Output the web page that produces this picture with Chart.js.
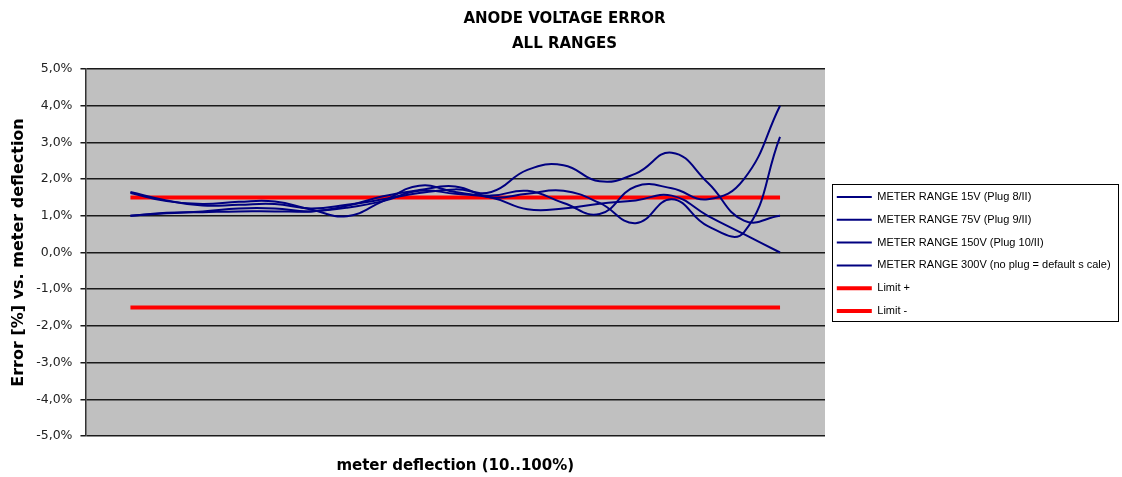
<!DOCTYPE html>
<html lang="en">
<head>
  <meta charset="UTF-8">
  <title>Anode Voltage Error</title>
  <script src="https://cdn.jsdelivr.net/npm/chart.js"></script>
  <style>
    body {
      margin: 0;
      padding: 0;
      background-color: white;
    }
    #chartContainer {
      width: 1122px;
      height: 477px;
    }
  </style>
</head>
<body>

  <div id="chartContainer">
    <canvas id="erroChart" width="1122" height="477"></canvas>
  </div>

  <script>
    // meter deflection in %
    const deflexao = [10, 15, 20, 25, 30, 35, 40, 45, 50, 55, 60, 65, 70, 75, 80, 85, 90, 95, 100];

    // error in % for each meter range
    const range15V  = [1.65, 1.42, 1.28, 1.30, 1.32, 1.20, 1.30, 1.45, 1.62, 1.72, 1.65, 2.25, 2.38, 1.94, 2.15, 2.72, 1.90, 0.87, 1.00];
    const range75V  = [1.62, 1.40, 1.32, 1.38, 1.39, 1.17, 0.99, 1.40, 1.82, 1.65, 1.55, 1.68, 1.35, 1.05, 1.80, 1.75, 1.45, 2.00, 4.00];
    const range150V = [1.00, 1.07, 1.12, 1.20, 1.20, 1.12, 1.27, 1.53, 1.70, 1.80, 1.50, 1.60, 1.68, 1.35, 0.80, 1.45, 0.72, 0.55, 3.15];
    const range300V = [1.00, 1.08, 1.10, 1.12, 1.12, 1.12, 1.22, 1.40, 1.68, 1.60, 1.50, 1.18, 1.20, 1.33, 1.42, 1.55, 1.00, 0.50, 0.00];
    const limitePos = [1.5, 1.5];
    const limiteNeg = [-1.5, -1.5];
    const limiteX = [10, 100];

    const yTicks = [5, 4, 3, 2, 1, 0, -1, -2, -3, -4, -5];

    const rotulos = [
      'METER RANGE 15V (Plug 8/II)',
      'METER RANGE 75V (Plug 9/II)',
      'METER RANGE 150V (Plug 10/II)',
      'METER RANGE 300V (no plug = default s cale)',
      'Limit +',
      'Limit -'
    ];

    const larguraLegenda = 295;

    function pontos(xs, ys) {
      return ys.map((y, i) => ({ x: xs[i], y: y }));
    }

    // gray plot area, legend size/position and legend border
    const fundoPlugin = {
      id: 'fundo',
      beforeLayout(chart) {
        const l = chart.legend;
        if (l && !l._larguraFixa) {
          const fitOriginal = l.fit;
          l.fit = function() {
            fitOriginal.call(this);
            this.width = larguraLegenda;
          };
          l._larguraFixa = true;
        }
      },
      afterLayout(chart) {
        const l = chart.legend;
        const a = chart.chartArea;
        const desvio = (a.top + a.bottom) / 2 + 1.5 - (l.top + l.bottom) / 2;
        l.top += desvio;
        l.bottom += desvio;
      },
      beforeDraw(chart) {
        const a = chart.chartArea;
        const ctx = chart.ctx;
        ctx.save();
        ctx.fillStyle = '#C0C0C0';
        ctx.fillRect(a.left, a.top, a.right - a.left, a.bottom - a.top);
        ctx.restore();
      },
      afterDraw(chart) {
        const l = chart.legend;
        const pad = l.options.labels.padding;
        const fonte = l.options.labels.font.size;
        const colH = l.columnSizes[0].height;
        const n = l.legendItems.length;
        const passo = colH / n;
        const topo = (l.top + pad + l.bottom - colH) / 2;
        const y0 = topo - 7.5;
        const y1 = topo + (n - 1) * passo + fonte + 4.5;
        const ctx = chart.ctx;
        ctx.save();
        ctx.strokeStyle = '#000';
        ctx.lineWidth = 1;
        ctx.strokeRect(Math.round(l.left + 7) + 0.5, Math.round(y0) + 0.5,
                       Math.round(l.width - 9), Math.round(y1 - y0));
        ctx.restore();
      }
    };

    const azul = '#000080';
    const vermelho = '#FF0000';

    function serie(label, data, cor, largura) {
      return {
        label: label,
        data: data,
        borderColor: cor,
        backgroundColor: cor,
        borderWidth: largura,
        pointRadius: 0,
        pointStyle: 'line',
        tension: 0.45,
        fill: false
      };
    }

    let ctx = document.getElementById('erroChart').getContext('2d');
    let chart = new Chart(ctx, {
      type: 'line',
      data: {
        datasets: [
          serie(rotulos[0], pontos(deflexao, range15V), azul, 2),
          serie(rotulos[1], pontos(deflexao, range75V), azul, 2),
          serie(rotulos[2], pontos(deflexao, range150V), azul, 2),
          serie(rotulos[3], pontos(deflexao, range300V), azul, 2),
          serie(rotulos[4], pontos(limiteX, limitePos), vermelho, 4),
          serie(rotulos[5], pontos(limiteX, limiteNeg), vermelho, 4)
        ]
      },
      plugins: [fundoPlugin],
      options: {
        responsive: false,
        animation: false,
        layout: {
          padding: { left: 9, right: 2, top: 2, bottom: 2 }
        },
        scales: {
          x: {
            type: 'linear',
            min: 3.77,
            max: 106.23,
            grid: { display: false },
            border: { display: false },
            ticks: { display: false },
            title: {
              display: true,
              text: 'meter deflection (10..100%)',
              color: '#000',
              font: { family: 'DejaVu Sans', size: 15, weight: 'bold' },
              padding: { top: 13, bottom: 0 }
            }
          },
          y: {
            min: -5,
            max: 5,
            afterBuildTicks(axis) {
              axis.ticks = yTicks.map(v => ({ value: v }));
            },
            grid: {
              color: '#1a1a1a',
              lineWidth: 1.5,
              tickLength: 5,
              drawTicks: true
            },
            border: { display: true, color: '#333', width: 1.5 },
            ticks: {
              color: '#222',
              padding: 8,
              font: { family: 'DejaVu Sans', size: 12.5 },
              callback: function(value) {
                return value.toFixed(1).replace('.', ',') + '%';
              }
            },
            title: {
              display: true,
              text: 'Error [%] vs. meter deflection',
              color: '#000',
              font: { family: 'DejaVu Sans', size: 16, weight: 'bold' },
              padding: { top: 0, bottom: 0 }
            }
          }
        },
        plugins: {
          title: {
            display: true,
            text: ['ANODE VOLTAGE ERROR', 'ALL RANGES'],
            color: '#000',
            font: { family: 'DejaVu Sans', size: 15, weight: 'bold', lineHeight: 1.7 },
            padding: { top: 4, bottom: 12 }
          },
          legend: {
            position: 'right',
            labels: {
              usePointStyle: true,
              pointStyleWidth: 35,
              color: '#000',
              padding: 11.8,
              font: { family: 'Liberation Sans', size: 11 }
            }
          },
          tooltip: { enabled: false }
        }
      }
    });
  </script>

</body>
</html>
